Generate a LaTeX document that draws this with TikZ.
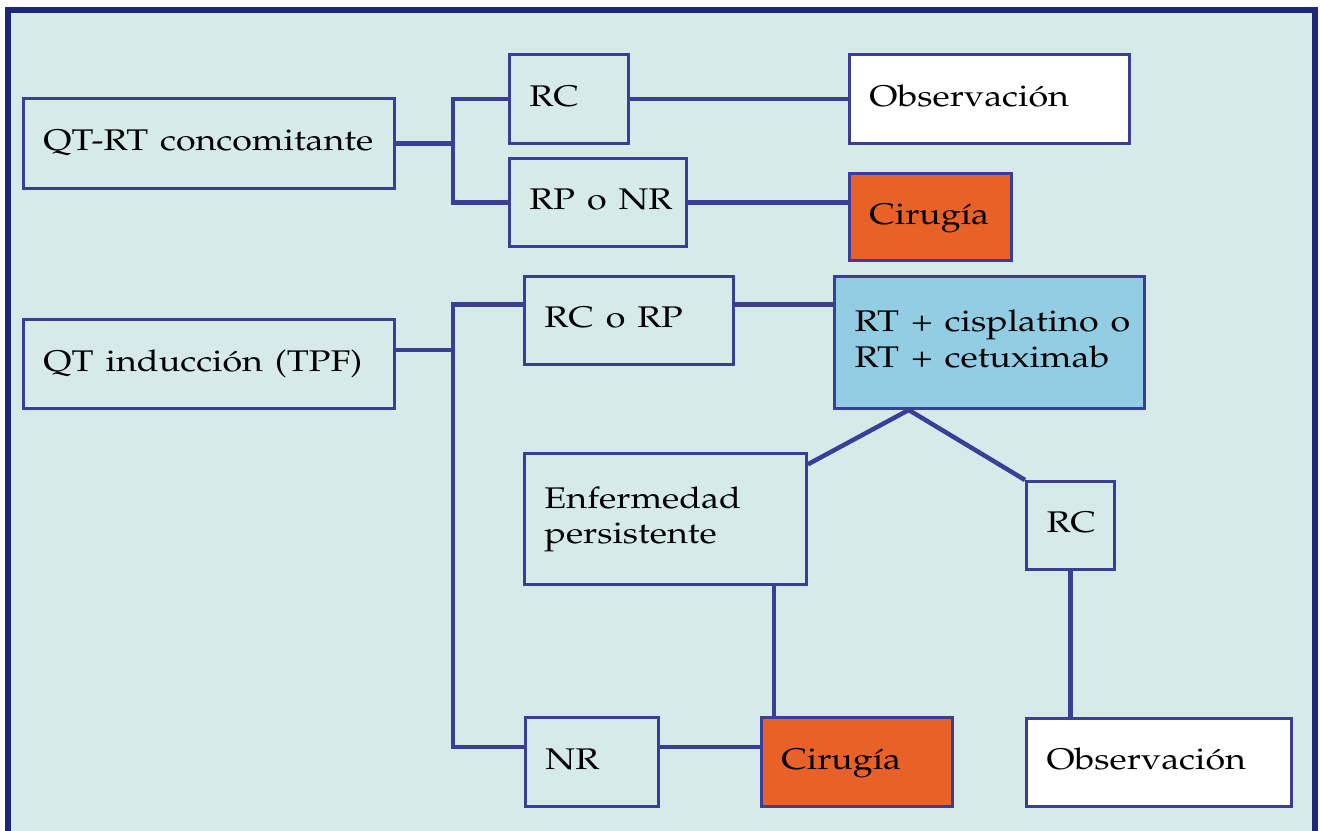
\documentclass[tikz,border=0pt]{standalone}
\usepackage[T1]{fontenc}
\usepackage{mathpazo}
\usepackage{graphicx}
\usepackage{tikz}
\usetikzlibrary{calc,positioning}

\definecolor{bgcol}{HTML}{D6EAEA}
\definecolor{linecol}{HTML}{3C3E96}
\definecolor{framecol}{HTML}{1E2878}
\definecolor{orangecol}{HTML}{E86228}
\definecolor{bluecol}{HTML}{92CDE4}

% box text, a little wider than the plain font
\newcommand{\wide}[1]{\scalebox{1.2}[1]{\begin{tabular}{@{}l@{}}#1\end{tabular}}}

\tikzset{
  box/.style={draw=linecol, line width=0.06cm, fill=bgcol, anchor=north west,
    inner xsep=0.4cm, inner ysep=0pt, align=left,
    font=\fontsize{17}{20}\selectfont},
  whitebox/.style={box, fill=white},
  orangebox/.style={box, fill=orangecol},
  bluebox/.style={box, fill=bluecol},
  link/.style={draw=linecol, line width=0.09cm}
}

\begin{document}
\begin{tikzpicture}[x=0.02cm, y=-0.02cm]
    % frame and background
    \useasboundingbox (0,0) rectangle (1320,831);
    \fill[bgcol] (8,10) rectangle (1315,831);
    \draw[framecol, line width=0.12cm] (8,831) -- (8,10) -- (1315,10) -- (1315,831);

    % upper branch
    \node[box, text width=6.62cm, minimum height=1.8cm] (qtrt) at (22,97) {\wide{QT-RT concomitante}};
    \node[box, text width=1.58cm, minimum height=1.78cm] (rc1) at (508,53) {\wide{RC}};
    \node[box, text width=2.74cm, minimum height=1.76cm] (rpnr) at (508,157) {\wide{RP o NR}};
    \node[whitebox, text width=4.8cm, minimum height=1.78cm] (obs1) at (848,53) {\wide{Observaci\'on}};
    \node[orangebox, text width=2.44cm, minimum height=1.74cm] (cir1) at (848,172) {\wide{Cirug\'{\i}a}};

    % lower branch
    \node[box, text width=6.62cm, minimum height=1.78cm] (qti) at (22,318) {\wide{QT inducci\'on (TPF)}};
    \node[box, text width=3.38cm, minimum height=1.76cm] (rcrp) at (523,275) {\wide{RC o RP}};
    \node[bluebox, text width=5.4cm, minimum height=2.64cm] (rt) at (833,275)
      {\wide{RT + cisplatino o\\RT + cetuximab}};
    \node[box, text width=4.84cm, minimum height=2.62cm] (enf) at (523,452)
      {\wide{Enfermedad\\persistente}};
    \node[box, text width=0.96cm, minimum height=1.76cm] (rc2) at (1025,480) {\wide{RC}};
    \node[box, text width=1.86cm, minimum height=1.78cm] (nr) at (524,716) {\wide{NR}};
    \node[orangebox, text width=3.02cm, minimum height=1.78cm] (cir2) at (760,716) {\wide{Cirug\'{\i}a}};
    \node[whitebox, text width=4.5cm, minimum height=1.76cm] (obs2) at (1025,717) {\wide{Observaci\'on}};

    % connectors, upper
    \coordinate (fork1) at ($(qtrt.east)+(57,0)$);
    \draw[link] (qtrt.east) -- (fork1);
    \draw[link] (rc1.west) -| (fork1) |- (rpnr.west);
    \draw[link] (rc1.east) -- (obs1.west);
    \draw[link] (rpnr.east) -- (rpnr.east -| cir1.west);

    % connectors, lower
    \coordinate (qtiout) at ([yshift=8pt]qti.east);
    \coordinate (rcrpin) at ([yshift=9pt]rcrp.west);
    \coordinate (rcrpout) at ([yshift=9pt]rcrp.east);
    \coordinate (nrin) at ([yshift=8.5pt]nr.west);
    \coordinate (nrout) at ([yshift=8.5pt]nr.east);
    \coordinate (fork2) at (qtiout -| fork1);
    \draw[link] (qtiout) -- (fork2);
    \draw[link] (rcrpin) -| (fork2) |- (nrin);
    \draw[link] (rcrpout) -- (rcrpout -| rt.west);
    \draw[link] (nrout) -- (nrout -| cir2.west);

    \coordinate (apex) at ($(rt.south west)!0.242!(rt.south east)$);
    \draw[link] ([yshift=-7pt]enf.north east) -- (apex) -- (rc2.north west);
    \coordinate (cirtop) at ([xshift=8pt]cir2.north west);
    \draw[link] (cirtop) -- (cirtop |- enf.south);
    \draw[link] (rc2.south) -- (rc2.south |- obs2.north);
\end{tikzpicture}
\end{document}
